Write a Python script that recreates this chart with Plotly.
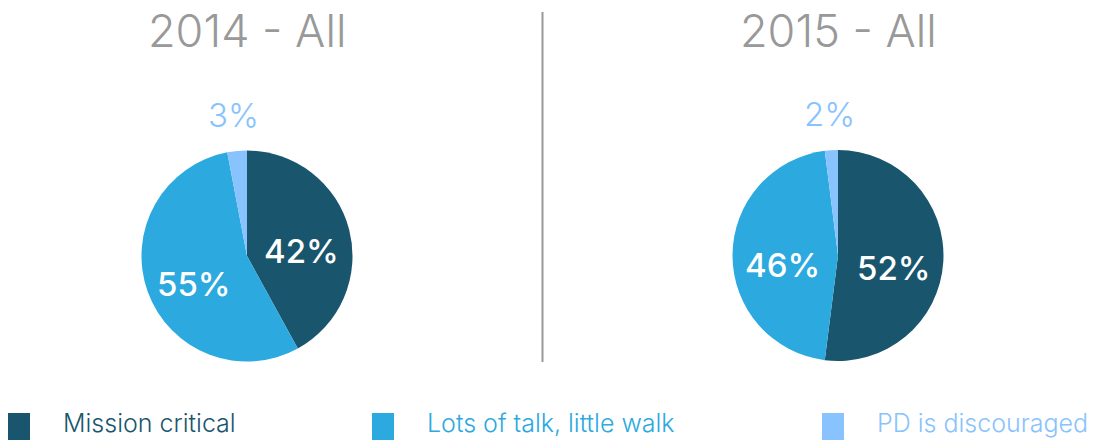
import math
import plotly.graph_objects as go

# Survey answers, share of respondents (%)
categories = ["Mission critical", "Lots of talk, little walk", "PD is discouraged"]
values_2014 = [42, 55, 3]
values_2015 = [52, 46, 2]
titles = ["2014 - All", "2015 - All"]
colors = ["#19566e", "#2ca9df", "#88c3fd"]

W, H = 1094, 440
FONT = "Inter"
# pie centres and radius in pixels
centers = [(247, 256), (838, 255.5)]
R = 105.5


def px(x, y):
    return x / W, 1 - y / H


fig = go.Figure()
annotations = []
for (cx, cy), vals, title in zip(centers, [values_2014, values_2015], titles):
    x0, y1 = px(cx - R, cy - R)
    x1, y0 = px(cx + R, cy + R)
    fig.add_trace(go.Pie(
        labels=categories, values=vals, sort=False, direction="clockwise",
        rotation=0, marker=dict(colors=colors, line=dict(width=0)),
        textinfo="none", hoverinfo="label+percent", showlegend=False,
        domain=dict(x=[x0, x1], y=[y0, y1]),
    ))
    # title above each pie
    tx, ty = px(cx, 31)
    annotations.append(dict(x=tx, y=ty, xref="paper", yref="paper", text=title,
                            showarrow=False,
                            font=dict(family=FONT, size=45, color="#999999", weight=300),
                            xanchor="center", yanchor="middle"))
    # value labels placed along each slice's mid-angle
    total = sum(vals)
    start = 0.0
    for i, v in enumerate(vals):
        mid = (start + v / 2) / total * 2 * math.pi
        start += v
        if v / total < 0.1:
            d, col, dy = 1.34 * R, colors[i], 0
        else:
            d, col, dy = 0.53 * R, "white", 9
        lx = cx + d * math.sin(mid)
        ly = cy - d * math.cos(mid) + dy
        ax, ay = px(lx, ly)
        annotations.append(dict(x=ax, y=ay, xref="paper", yref="paper", text=f"{v}%",
                                showarrow=False,
                                font=dict(family=FONT, size=33, color=col,
                                          weight=500 if col == "white" else 300),
                                xanchor="center", yanchor="middle"))

# divider between the two years
shapes = [dict(type="line", xref="paper", yref="paper",
               x0=542.5 / W, x1=542.5 / W, y0=1 - 12 / H, y1=1 - 362 / H,
               line=dict(color="#999999", width=2))]

# legend along the bottom
legend_x = [8, 372, 822]
for lx, name, col in zip(legend_x, categories, colors):
    sx0, sy1 = px(lx, 413)
    sx1, sy0 = px(lx + 22, 445)
    shapes.append(dict(type="rect", xref="paper", yref="paper", x0=sx0, x1=sx1,
                       y0=sy0, y1=sy1, fillcolor=col, line=dict(width=0)))
    ax = (lx + 53) / W
    annotations.append(dict(x=ax, y=0, xref="paper", yref="paper", text=name,
                            showarrow=False,
                            font=dict(family=FONT, size=25, color=col, weight=300),
                            xanchor="left", yanchor="bottom"))

fig.update_layout(
    width=W, height=H, margin=dict(l=0, r=0, t=0, b=0),
    paper_bgcolor="white", plot_bgcolor="white",
    annotations=annotations, shapes=shapes,
)
fig.write_html("out.html")
